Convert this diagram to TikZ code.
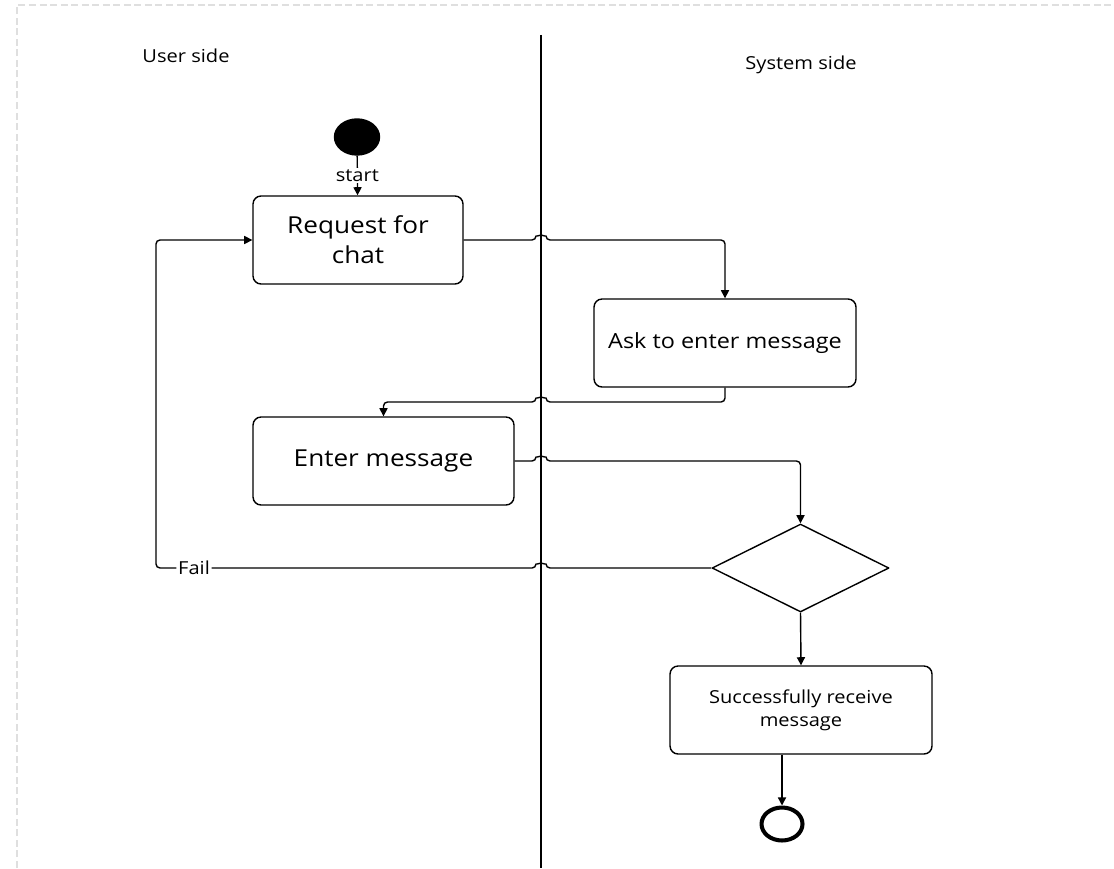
\documentclass[tikz,border=0pt]{standalone}
\usepackage{fontspec}
\setmainfont{Open Sans}[FakeStretch=1.12]
\usetikzlibrary{shapes.geometric,arrows.meta}
\begin{document}
\begin{tikzpicture}[x=0.02cm, y=0.02cm, line join=round, line width=0.8pt,
		>={Triangle[width=4.6pt,length=4.6pt]},
		act/.style={draw, rectangle, rounded corners=0.16cm, minimum width=5.24cm, minimum height=1.76cm, align=center, inner sep=0pt},
		lbl/.style={font=\fontsize{10.2}{12}\selectfont},
		flow/.style={->, rounded corners=0.08cm},
		hop/.style={to path={-- ([xshift=-0.1cm]\tikztotarget) arc[start angle=180, end angle=0, radius=0.1cm]}},
		hopl/.style={to path={-- ([xshift=0.1cm]\tikztotarget) arc[start angle=0, end angle=180, radius=0.1cm]}}]
	\useasboundingbox (0,0) rectangle (1114,-868);
	\draw[gray!25, line width=1.1pt, dash pattern=on 4pt off 2pt] (17,-868) -- (17,-5) -- (1114,-5);
	% swim lanes
	\coordinate (lane) at (541,-35);
	\draw (lane) -- (541,-868);
	\node[lbl] (user) at (186,-56) {User side};
	\node[lbl] (sys) at (801,-65) {System side};
	% nodes
	\node[draw, fill, ellipse, minimum width=0.9cm, minimum height=0.72cm, inner sep=0pt] (init) at (357,-137) {};
	\node[act, minimum width=4.2cm, font=\fontsize{13.3}{17}\selectfont] (req) at (358,-240) {Request for\\chat};
	\node[act, font=\fontsize{11.9}{14}\selectfont] (ask) at (725,-343) {Ask to enter message};
	\node[act, minimum width=5.22cm, font=\fontsize{13.3}{16}\selectfont] (enter) at (383.5,-461) {Enter message};
	\node[draw, diamond, aspect=2, minimum width=3.54cm, minimum height=1.76cm, inner sep=0pt] (dec) at (800.5,-568) {};
	\node[act, font=\fontsize{10.2}{13}\selectfont] (ok) at (801,-710) {Successfully receive\\message};
	\node[draw, ellipse, line width=2.3pt, minimum width=0.82cm, minimum height=0.66cm, inner sep=0pt] (final) at (782,-824) {};
	\coordinate (turn) at (541,-402);
	\coordinate (back) at (156,-568);
	% connectors
	\draw[->] (init) -- node[lbl, fill=white, inner sep=1pt]{start} (req);
	\draw[flow] (req.east) to[hop] (lane |- req.east) -| (ask.north);
	\draw[flow] (ask.south) -- (ask.south |- turn) to[hopl] (turn) -| (enter.north);
	\draw[flow] (enter.east) to[hop] (lane |- enter.east) -| (dec.north);
	\draw[flow] (dec.west) to[hopl] (lane |- dec.west) -- node[lbl, pos=.9, fill=white, inner sep=1pt]{Fail} (back) |- (req.west);
	\draw[->] (dec.south) -- (ok.north);
	\draw[->] (final.north |- ok.south) -- (final.north);
\end{tikzpicture}
\end{document}
